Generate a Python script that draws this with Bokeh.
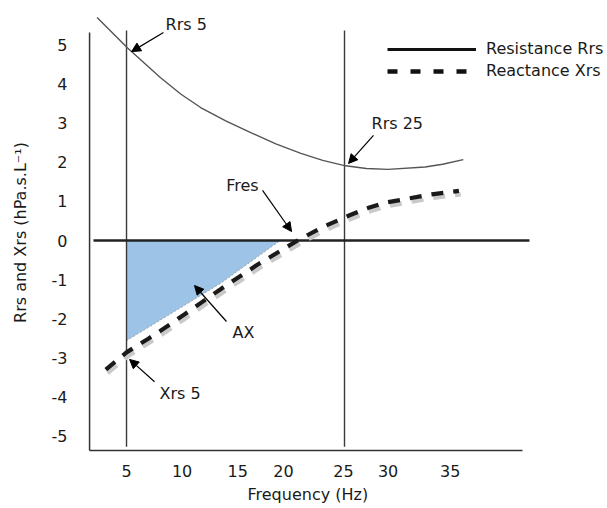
from bokeh.plotting import figure
from bokeh.models import (Range1d, FixedTicker, Label, Arrow, NormalHead, Legend,
                          LegendItem, ColumnDataSource)
from bokeh.transform import dodge
from bokeh.embed import file_html
from bokeh.resources import INLINE

# ---------------- data ----------------
rrs_freq = [2.3, 5.1, 8.1, 10.0, 11.8, 14.1, 16.4, 18.7, 21.0, 23.0, 25.1, 27.0, 29.0, 32.4, 34.0, 35.9]
rrs_val = [5.70, 4.92, 4.17, 3.74, 3.40, 3.06, 2.76, 2.47, 2.23, 2.05, 1.91, 1.84, 1.82, 1.88, 1.95, 2.07]

xrs_freq = [3.1, 5.0, 7.0, 8.7, 10.3, 13.6, 17.0, 20.7, 22.9, 25.0, 27.0, 28.8, 31.0, 33.0, 35.5]
xrs_val = [-3.30, -2.86, -2.51, -2.20, -1.89, -1.25, -0.62, 0.0, 0.33, 0.59, 0.82, 0.97, 1.08, 1.18, 1.27]

ax_freq = [5.0, 5.0, 13.6, 19.1]
ax_val = [0.0, -2.56, -1.10, 0.0]

marker_freqs = [5, 25]

x_tick_pos = [5, 10.1, 15.2, 19.4, 24.9, 29.0, 34.7]
x_tick_labels = ["5", "10", "15", "20", "25", "30", "35"]
y_ticks = [-5, -4, -3, -2, -1, 0, 1, 2, 3, 4, 5]
y_tick_labels = ["-5", "-4", "-3", "-2", "-1", "0", "1", "2", "3", "4", "5"]

series_names = ["Resistance Rrs", "Reactance Xrs"]
x_title = "Frequency (Hz)"
y_title = "Rrs and Xrs (hPa.s.L\u207b\u00b9)"

FONT = "DejaVu Sans"
FS = "16px"
TXT = "#1a1a1a"
NAN = float("nan")

p = figure(width=607, height=508,
           x_range=Range1d(1.42, 49.13), y_range=Range1d(-5.42, 5.83),
           output_backend="svg", toolbar_location=None,
           min_border_left=87, min_border_right=0, min_border_top=12, min_border_bottom=56)
p.outline_line_color = None
p.xgrid.visible = False
p.ygrid.visible = False
p.background_fill_color = "white"
p.border_fill_color = "white"

for ax in (p.xaxis[0], p.yaxis[0]):
    ax.axis_line_color = None
    ax.major_tick_line_color = None
    ax.minor_tick_line_color = None
    ax.major_label_text_font = FONT
    ax.major_label_text_font_size = FS
    ax.major_label_text_color = TXT
    ax.axis_label_text_font = FONT
    ax.axis_label_text_font_size = FS
    ax.axis_label_text_font_style = "normal"
    ax.axis_label_text_color = TXT

p.xaxis.ticker = FixedTicker(ticks=x_tick_pos)
p.xaxis.major_label_overrides = {t: l for t, l in zip(x_tick_pos, x_tick_labels)}
p.xaxis.major_label_standoff = 6

p.yaxis.ticker = FixedTicker(ticks=y_ticks)
p.yaxis.major_label_overrides = {t: l for t, l in zip(y_ticks, y_tick_labels)}
p.yaxis.major_label_standoff = 14
p.yaxis.axis_label = y_title
p.yaxis.axis_label_standoff = 19

# x-axis title, shown as the figure title below the axis so it can sit left of centre
p.title_location = "below"
p.title.text = x_title
p.title.text_font = FONT
p.title.text_font_size = FS
p.title.text_font_style = "normal"
p.title.text_color = TXT
p.title.align = "left"
p.title.offset = 160
p.title.standoff = 6

# shaded area AX
p.patch(ax_freq, ax_val, fill_color="#9dc3e6", line_color="#a0a0a0",
        line_dash="2 2", line_width=1)

# vertical markers at 5 and 25 Hz
p.segment(x0=marker_freqs, y0=[-5.27] * len(marker_freqs), x1=marker_freqs,
          y1=[5.37] * len(marker_freqs), line_color="#3a3a3a", line_width=1.4)

# zero line
p.segment(x0=[1.97], y0=[0], x1=[41.97], y1=[0], line_color="#222222", line_width=2.6)

# Rrs curve
p.line(rrs_freq, rrs_val, line_color="#555555", line_width=1.4)

# Xrs curve with grey shadow
src_x = ColumnDataSource(dict(f=xrs_freq, v=xrs_val))
p.line(x=dodge("f", 0.17), y=dodge("v", -0.09), source=src_x,
       line_color="#c9c9c9", line_width=4.2, line_dash="12 10")
p.line(x="f", y="v", source=src_x, line_color="#1a1a1a", line_width=4.2, line_dash="12 10")

# axis lines (drawn manually)
p.segment(x0=[1.61, 1.61], y0=[-5.37, -5.37], x1=[1.61, 41.33], y1=[5.32, -5.37],
          line_color="#333333", line_width=1.5)

# annotations
def head():
    return NormalHead(size=9, fill_color="black", line_color="black", line_width=1)

arrows = [
    ((8.39, 5.32), (5.46, 4.83)),
    ((27.66, 2.69), (25.37, 1.97)),
    ((17.48, 1.28), (20.14, 0.23)),
    ((14.17, -2.07), (11.24, -1.15)),
    ((7.57, -3.61), (5.28, -3.04)),
]
for (xs, ys), (xe, ye) in arrows:
    p.add_layout(Arrow(end=head(), x_start=xs, y_start=ys, x_end=xe, y_end=ye,
                       line_color="black", line_width=1.2))

labels = [
    ("Rrs 5", 8.58, 5.52, "left"),
    ("Rrs 25", 27.48, 2.99, "left"),
    ("Fres", 15.64, 1.41, "center"),
    ("AX", 15.73, -2.35, "center"),
    ("Xrs 5", 8.03, -3.91, "left"),
]
for t, x, y, al in labels:
    p.add_layout(Label(x=x, y=y, text=t, text_font=FONT, text_font_size=FS,
                       text_color=TXT, text_align=al, text_baseline="middle"))

# legend (renderers without visible data, used only for the legend glyphs)
r_leg1 = p.line(x=[NAN], y=[NAN], line_color="#111111", line_width=3)
r_leg2 = p.line(x=[NAN], y=[NAN], line_color="#111111", line_width=4.5, line_dash="10 13")
legend = Legend(items=[LegendItem(label=series_names[0], renderers=[r_leg1]),
                       LegendItem(label=series_names[1], renderers=[r_leg2])],
                location=(300, 372), orientation="vertical",
                glyph_width=89, glyph_height=16, label_height=16, label_standoff=10,
                spacing=3, padding=0, margin=0,
                label_text_font=FONT, label_text_font_size=FS, label_text_color=TXT,
                border_line_color=None, background_fill_alpha=0)
p.add_layout(legend)

open("out.html", "w").write(file_html(p, INLINE))
